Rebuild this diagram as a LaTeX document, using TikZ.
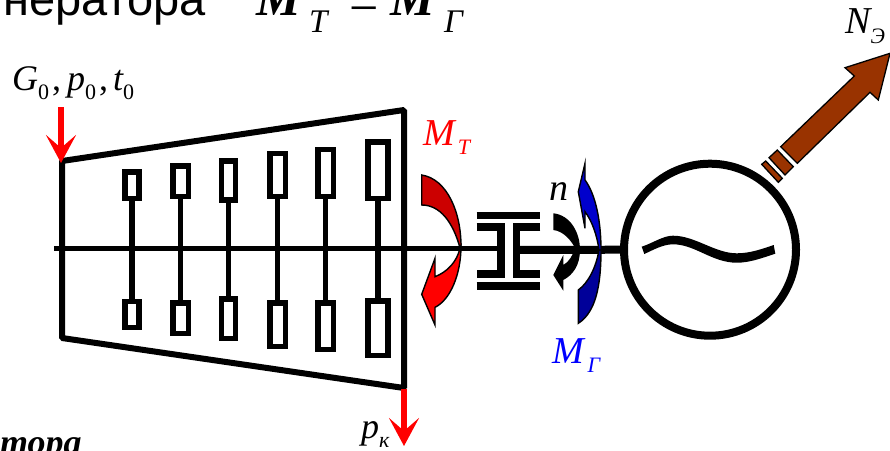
\documentclass[tikz,border=0pt]{standalone}
\usepackage{fontspec}
\setmainfont{Liberation Serif}
\newfontfamily\capfont{Liberation Sans}
\usetikzlibrary{arrows.meta}

\definecolor{torqueT}{HTML}{CC0000}
\definecolor{torqueGa}{HTML}{0000CC}
\definecolor{torqueGb}{HTML}{000099}
\definecolor{powerflow}{HTML}{993300}

% main letter, subscript, main size, drop
\newcommand{\symb}[4]{{\itshape\fontsize{#3}{#3}\selectfont #1}{\raisebox{-#4pt}{\fontsize{22}{22}\selectfont #2}}}
\newcommand{\subcomma}{{\fontsize{36}{36}\selectfont\kern3pt,}}

\tikzset{
  lbl/.style={inner sep=0pt,anchor=base west},
  blade/.style={draw,line width=5.5pt,inner sep=0pt},
  flowarrow/.style={red,line width=5.7pt,-{Stealth[length=28pt,width=30pt,inset=13pt]}},
  sweep/.style={draw=black,line width=1.4pt},
  flowpiece/.style={fill=powerflow,draw=black,line width=1.3pt}
}

\begin{document}
\begin{tikzpicture}[x=1pt,y=-1pt]
  \useasboundingbox (0,0) rectangle (890,450);
  \clip (0,0) rectangle (890,450);

  % heading, cut by the frame
  \node[lbl,font=\capfont\fontsize{47}{47}\selectfont] (head) at (3,15) {нератора};
  \node[lbl,font=\bfseries\itshape\fontsize{50}{50}\selectfont] (headMa) at (256,15) {M};
  \node[lbl,font=\itshape\fontsize{33}{33}\selectfont] (headTa) at (309,32) {T};
  \node[lbl,font=\fontsize{52}{52}\selectfont] (headMinus) at (349,25) {−};
  \node[lbl,font=\bfseries\itshape\fontsize{50}{50}\selectfont] (headMb) at (390,15) {M};
  \node[lbl,font=\itshape\fontsize{33}{33}\selectfont] (headGa) at (444,32) {Г};
  \node[lbl,font=\bfseries\itshape\fontsize{36}{36}\selectfont] (foot) at (0,454) {тора};

  % casing
  \coordinate (caseA) at (62,161);
  \coordinate (caseB) at (404,110);
  \coordinate (caseC) at (404,388);
  \coordinate (caseD) at (62,338);
  \draw[line width=6pt,line join=bevel] (caseA) -- (caseB) -- (caseC) -- (caseD) -- cycle;

  % generator and shaft
  \node[circle,draw,line width=8pt,minimum size=172pt,inner sep=0pt] (gen) at (710,249.7) {};
  \coordinate (shaftL) at (54,248.3);
  \coordinate (cplL) at (499,248.3);
  \coordinate (cplR) at (518,250);
  \draw[line width=5.3pt] (shaftL) -- (cplL);
  \draw[line width=8pt] (cplR) -- (gen.west);

  % blades: x / width / top pair / bottom pair
  \foreach \i/\x/\w/\ta/\tb/\ba/\bb in {1/132/19.7/169/201/298.7/330,2/180.5/21/163.3/199.3/300/336,3/228.5/19.6/158.3/202.7/296/341,
    4/277.5/21/150.7/199.3/300/349,5/325.5/21/146.7/199.3/300/352.3,6/378/25.7/139.3/201.3/298/358}{
    \node[blade,minimum width={(\w-5.5)*1pt},minimum height={(\tb-\ta-5.5)*1pt}] (top\i) at (\x,{(\ta+\tb)/2}) {};
    \node[blade,minimum width={(\w-5.5)*1pt},minimum height={(\bb-\ba-5.5)*1pt}] (bot\i) at (\x,{(\ba+\bb)/2}) {};
    \draw[line width=5.5pt] (top\i) -- (bot\i);
  }

  % coupling
  \draw[line width=7.6pt] (476.7,215.5) -- (540.3,215.5);
  \draw[line width=7.6pt] (476.7,286) -- (540.3,286);
  \draw[line width=7.6pt] (476.7,227) -- (501.2,227) -- (501.2,274) -- (476.7,274);
  \draw[line width=7.6pt] (540.3,227) -- (516.4,227) -- (516.4,274) -- (540.3,274);

  % turbine torque
  \draw[sweep,fill=torqueT] (421.7,175) .. controls (447,179) and (461,212) .. (461,246)
    -- (460,248) .. controls (453,222) and (440,205) .. (421.7,205) -- cycle;
  \draw[sweep,fill=red] (461,246) .. controls (461,275) and (450,300) .. (435,307.3)
    -- (435,325) -- (421.7,294.3) -- (435,258.3) -- (435,276.7)
    .. controls (447,272) and (457,262) .. (460,248) -- cycle;

  % rotation
  \fill (553.3,213.3) .. controls (570,215) and (580,232) .. (580,250)
    -- (575,248) .. controls (571,240) and (563,231) .. (553.3,230) -- cycle;
  \fill (580,250) .. controls (580,265) and (573,275) .. (563.3,280)
    -- (563.3,290.7) -- (553.3,275) -- (563.3,255) -- (563.3,265)
    .. controls (569,262) and (573,255) .. (575,248) -- cycle;

  % generator torque
  \draw[sweep,fill=torqueGb] (578.3,290) .. controls (588,283) and (596,268) .. (599,250)
    -- (601,250) .. controls (601,285) and (596,312) .. (578.3,323.3) -- cycle;
  \draw[sweep,fill=torqueGa] (585,163.3) -- (585,180) .. controls (596,195) and (601,222) .. (601,250)
    -- (599,250) .. controls (597,235) and (592,221) .. (585,211.7)
    -- (585,228.3) -- (578.3,191.7) -- cycle;

  % tilde
  \fill (641.7,246.7) .. controls (653,243) and (663,235.7) .. (673,235.7)
    .. controls (695,235.7) and (715,253.3) .. (736.7,253.3)
    .. controls (750,253.3) and (762,249) .. (773.7,245)
    -- (775.3,253.7) .. controls (762,258) and (750,262.7) .. (736.7,262.7)
    .. controls (712,262.7) and (695,244.3) .. (673,244.3)
    .. controls (663,244.3) and (653,250) .. (644.3,254) -- cycle;

  % power output
  \draw[flowpiece] (780.7,146.7) -- (854.3,76) -- (845,67.7) -- (890,53.3) -- (878.3,100) -- (870,92.3) -- (797.3,163.3) -- cycle;
  \draw[flowpiece] (769,157.7) -- (777.3,150) -- (793.3,166.7) -- (785,175) -- cycle;
  \draw[flowpiece] (761.7,164.3) -- (765.7,161) -- (782.3,178.3) -- (778.3,182.3) -- cycle;

  % steam in and out
  \coordinate (inletA) at (61,107);
  \coordinate (inletB) at (61,163);
  \coordinate (outletA) at (404,389);
  \coordinate (outletB) at (404,446);
  \draw[flowarrow] (inletA) -- (inletB);
  \draw[flowarrow] (outletA) -- (outletB);

  % labels
  \node[lbl] (steamG) at (12,90.7) {\symb{G}{0}{36}{8.6}\subcomma};
  \node[lbl] (steamP) at (67,90.7) {\symb{p}{0}{36}{8.6}\subcomma};
  \node[lbl] (steamT) at (113,90.7) {\symb{t}{0}{36}{8.6}};
  \node[lbl,red] (labelT) at (423,145) {\symb{M}{\itshape\kern3pt Т}{38}{9}};
  \node[lbl,blue] (labelG) at (552.7,363) {\symb{M}{\itshape\kern3pt Г}{38}{9}};
  \node[lbl,font=\itshape\fontsize{38}{38}\selectfont] (labelN) at (549,200) {n};
  \node[lbl] (labelP) at (845,33) {\symb{N}{\itshape Э}{38}{10}};
  \node[lbl] (labelK) at (361,438) {\symb{p}{\itshape к}{36}{9}};
\end{tikzpicture}
\end{document}
